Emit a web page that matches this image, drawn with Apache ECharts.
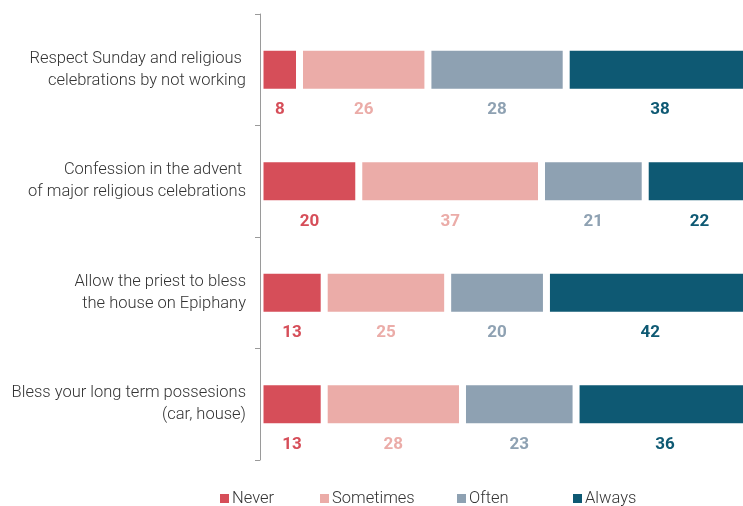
<!DOCTYPE html>
<html>
<head>
<meta charset="utf-8">
<script src="https://cdn.jsdelivr.net/npm/echarts@6/dist/echarts.min.js"></script>
<style>
  html, body { margin: 0; padding: 0; background: #fff; }
  #chart { width: 743px; height: 506px; }
</style>
</head>
<body>
<div id="chart"></div>
<script>
// Survey: how often respondents follow religious practices (% of answers)
const categories = [
  'Respect Sunday and religious \ncelebrations by not working',
  'Confession in the advent \nof major religious celebrations',
  'Allow the priest to bless\nthe house on Epiphany',
  'Bless your long term possesions\n(car, house)'
];
const seriesNames = ['Never', 'Sometimes', 'Often', 'Always'];
const never     = [8, 20, 13, 13];
const sometimes = [26, 37, 25, 28];
const often     = [28, 21, 20, 23];
const always    = [38, 22, 42, 36];
const colors = ['#D64E59', '#EBACA8', '#8EA1B2', '#0E5973'];

const values = [never, sometimes, often, always];

const chart = echarts.init(document.getElementById('chart'), null, { renderer: 'canvas' });

const series = seriesNames.map((name, i) => ({
  name: name,
  type: 'bar',
  stack: 'total',
  barWidth: 45,
  clip: false,
  data: values[i],
  itemStyle: { color: colors[i], borderColor: '#ffffff', borderWidth: 3.5 },
  label: {
    show: true,
    position: 'bottom',
    distance: 9,
    color: colors[i],
    fontFamily: 'Roboto',
    fontWeight: 'bold',
    fontSize: 17
  },
  emphasis: { disabled: true }
}));

// one legend block per entry so each can sit at its own spot
const legendLefts = [213, 313, 450, 566];
const legends = seriesNames.map((name, i) => ({
  bottom: -6,
  left: legendLefts[i],
  itemWidth: 11,
  itemHeight: 11,
  icon: 'rect',
  selectedMode: false,
  textStyle: { color: '#333333', fontFamily: 'Roboto', fontWeight: 300, fontSize: 16.5, padding: [0, 0, 0, -3] },
  data: [name]
}));

chart.setOption({
  animation: false,
  color: colors,
  grid: { left: 260, top: 14, right: 0, height: 446, containLabel: false },
  // the 100% end of each bar runs slightly past the right edge of the canvas
  xAxis: {
    type: 'value',
    min: 0,
    max: 97.8,
    show: false
  },
  yAxis: {
    type: 'category',
    inverse: true,
    data: categories,
    axisLine: { show: true, lineStyle: { color: '#9a9a9a', width: 1 } },
    axisTick: { show: true, length: 5, lineStyle: { color: '#9a9a9a' } },
    axisLabel: {
      margin: 14,
      color: '#333333',
      fontFamily: 'Roboto',
      fontWeight: 300,
      fontSize: 16.5,
      lineHeight: 22,
      align: 'right'
    },
    z: 10
  },
  legend: legends,
  series: series
});
</script>
</body>
</html>
